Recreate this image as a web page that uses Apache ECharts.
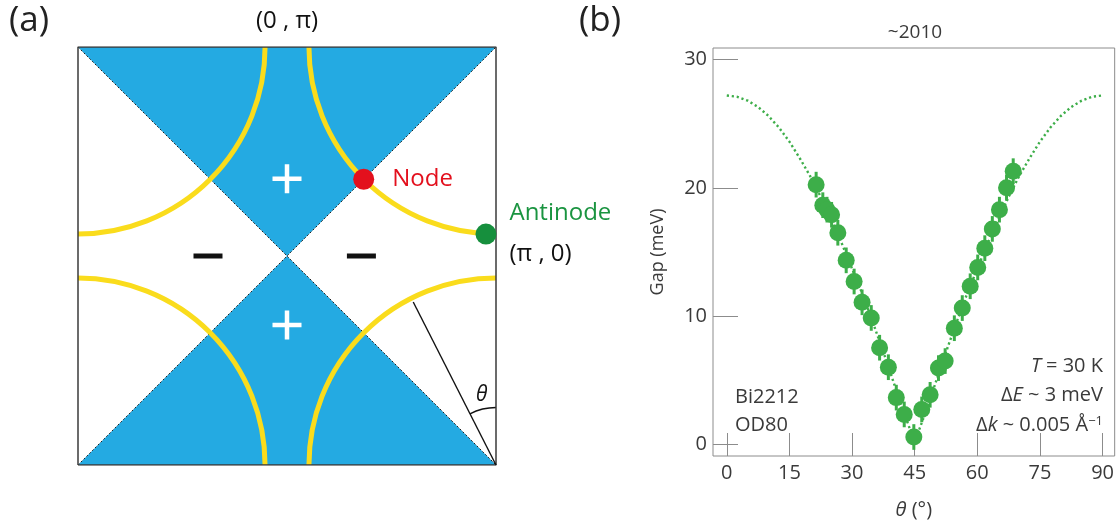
<!DOCTYPE html>
<html>
<head>
<meta charset="utf-8">
<script src="https://cdn.jsdelivr.net/npm/echarts@6/dist/echarts.min.js"></script>
<style>
  html, body { margin: 0; padding: 0; background: #fff; }
  #chart { width: 1117px; height: 525px; }
</style>
</head>
<body>
<div id="chart"></div>
<script>
// ---------- Panel (a): first Brillouin zone, momenta in units of pi ----------
const zoneEdge = [[-1, -1], [1, -1], [1, 1], [-1, 1], [-1, -1]];
const plusLobes = [
  [[-1, 1], [1, 1], [0, 0]],
  [[-1, -1], [1, -1], [0, 0]]
];
const nodalLines = [
  [[-1, 1], [1, -1]],
  [[-1, -1], [1, 1]]
];
const fermiRadius = 0.895;
// quarter arcs: centre kx, centre ky, start angle, end angle (degrees, screen orientation)
const fermiArcs = [[-1, 1, 0, 90], [1, 1, 90, 180], [-1, -1, -90, 0], [1, -1, 180, 270]];
const nodePoint = [[0.367, 0.367]];
const antinodePoint = [[0.952, 0.105]];
const plusSigns = [[0, 0.37], [0, -0.33]];
const minusSigns = [[-0.378, 0], [0.356, 0]];
const thetaRay = [[1, -1], [0.604, -0.22]];
const thetaAngleDeg = 27;
const thetaArcRadius = 0.275;
const thetaLabelPos = [[0.932, -0.665]];
const zoneTopPoint = [[0, 1]];

// ---------- Panel (b): gap versus Fermi-surface angle ----------
const xTicks = [0, 15, 30, 45, 60, 75, 90];
const yTicks = [0, 10, 20, 30];
const thetaDeg = [21.4, 23.0, 24.0, 25.1, 26.6, 28.6, 30.5, 32.4, 34.6, 36.6, 38.7, 40.6, 42.5, 44.8,
                  46.7, 48.7, 50.7, 52.3, 54.5, 56.4, 58.3, 60.1, 61.8, 63.6, 65.3, 67.0, 68.6];
const gapMeV =   [20.25, 18.65, 18.3, 17.9, 16.5, 14.35, 12.7, 11.08, 9.86, 7.54, 6.02, 3.65, 2.34, 0.58,
                  2.73, 3.87, 5.95, 6.5, 9.06, 10.63, 12.33, 13.8, 15.3, 16.8, 18.3, 20.0, 21.3];
const gapErr = 1.0;
const fitTheta = [0, 2.5, 5, 7.5, 10, 12.5, 15, 17.5, 20, 22.5, 25, 27.5, 30, 32.5, 35, 37.5, 40, 42.5, 45,
                  47.5, 50, 52.5, 55, 57.5, 60, 62.5, 65, 67.5, 70, 72.5, 75, 77.5, 80, 82.5, 85, 87.5, 90];
const fitGap =   [27.2, 27.1, 26.8, 26.3, 25.6, 24.7, 23.6, 22.3, 20.9, 19.3, 17.5, 15.7, 13.7, 11.7, 9.5, 7.2, 4.8, 2.4, 0.2,
                  2.4, 4.8, 7.2, 9.5, 11.7, 13.7, 15.7, 17.5, 19.3, 20.9, 22.3, 23.6, 24.7, 25.6, 26.3, 26.8, 27.1, 27.2];

const FONT = '"Open Sans", "DejaVu Sans", sans-serif';
const BLUE = '#24aae2';
const YELLOW = '#fadc1c';
const GREEN = '#3dae49';
const TEXT_B = '#3a3a3a';
const rad = d => d * Math.PI / 180;

const chart = echarts.init(document.getElementById('chart'), null, { renderer: 'canvas' });

const option = {
  animation: false,
  backgroundColor: '#fff',
  grid: [
    { left: 78, top: 47, width: 418, height: 418, show: false },
    { left: 713, top: 48, width: 402, height: 419, show: true, borderColor: '#8c8c8c', borderWidth: 1 }
  ],
  xAxis: [
    { gridIndex: 0, type: 'value', min: -1, max: 1, show: false },
    {
      gridIndex: 1, type: 'value', min: -3.3, max: 92.9, position: 'bottom',
      axisLine: { show: false, onZero: false }, splitLine: { show: false },
      axisTick: { show: true, inside: true, length: 23, customValues: xTicks, lineStyle: { color: '#8c8c8c', width: 1 } },
      axisLabel: { customValues: xTicks, color: TEXT_B, fontSize: 20, fontFamily: FONT, margin: 7 },
      name: '{i|θ} (°)', nameLocation: 'middle', nameGap: 44,
      nameTextStyle: { color: TEXT_B, fontSize: 20, fontFamily: FONT,
        rich: { i: { fontStyle: 'italic', fontSize: 20, fontFamily: FONT, color: TEXT_B } } }
    }
  ],
  yAxis: [
    { gridIndex: 0, type: 'value', min: -1, max: 1, show: false },
    {
      gridIndex: 1, type: 'value', min: -0.9, max: 30.9, position: 'left',
      axisLine: { show: false, onZero: false }, splitLine: { show: false },
      axisTick: { show: true, inside: true, length: 25, customValues: yTicks, lineStyle: { color: '#8c8c8c', width: 1 } },
      axisLabel: { customValues: yTicks, color: TEXT_B, fontSize: 20, fontFamily: FONT, margin: 6 },
      name: 'Gap (meV)', nameLocation: 'middle', nameGap: 46,
      nameTextStyle: { color: TEXT_B, fontSize: 18, fontFamily: FONT }
    }
  ],
  series: [
    // positive lobes of the d-wave gap
    {
      type: 'custom', xAxisIndex: 0, yAxisIndex: 0, z: 1, silent: true, clip: false,
      data: plusLobes.map((_, i) => [0, 0, i]),
      renderItem: (params, api) => ({
        type: 'polygon',
        shape: { points: plusLobes[api.value(2)].map(p => api.coord(p)) },
        style: { fill: BLUE }
      })
    },
    // nodal diagonals
    ...nodalLines.map(seg => ({
      type: 'line', xAxisIndex: 0, yAxisIndex: 0, z: 2, silent: true, showSymbol: false,
      data: seg, lineStyle: { color: '#222', width: 1, type: [2, 2] }
    })),
    // Fermi surface arcs
    {
      type: 'custom', xAxisIndex: 0, yAxisIndex: 0, z: 3, silent: true, clip: false,
      data: fermiArcs,
      renderItem: (params, api) => {
        const c = api.coord([api.value(0), api.value(1)]);
        const r = api.size([fermiRadius, 0])[0];
        return {
          type: 'arc',
          shape: { cx: c[0], cy: c[1], r: r, startAngle: rad(api.value(2)), endAngle: rad(api.value(3)), clockwise: true },
          style: { stroke: YELLOW, lineWidth: 5, fill: 'none' }
        };
      }
    },
    // zone boundary
    {
      type: 'line', xAxisIndex: 0, yAxisIndex: 0, z: 4, silent: true, showSymbol: false,
      data: zoneEdge, lineStyle: { color: '#3a3a3a', width: 1.5 }
    },
    // angle definition
    {
      type: 'line', xAxisIndex: 0, yAxisIndex: 0, z: 4, silent: true, showSymbol: false,
      data: thetaRay, lineStyle: { color: '#111', width: 1.4 }
    },
    {
      type: 'custom', xAxisIndex: 0, yAxisIndex: 0, z: 4, silent: true, clip: false,
      data: [thetaRay[0]],
      renderItem: (params, api) => {
        const c = api.coord([api.value(0), api.value(1)]);
        const r = api.size([thetaArcRadius, 0])[0];
        return {
          type: 'arc',
          shape: { cx: c[0], cy: c[1], r: r, startAngle: rad(-90 - thetaAngleDeg), endAngle: rad(-90), clockwise: true },
          style: { stroke: '#111', lineWidth: 1.4, fill: 'none' }
        };
      }
    },
    {
      type: 'scatter', xAxisIndex: 0, yAxisIndex: 0, z: 5, silent: true, symbolSize: 0,
      data: thetaLabelPos, itemStyle: { opacity: 1 },
      label: { show: true, position: 'inside', formatter: 'θ', color: '#111', fontSize: 21, fontStyle: 'italic', fontFamily: FONT }
    },
    // node and antinode
    {
      type: 'scatter', xAxisIndex: 0, yAxisIndex: 0, z: 6, silent: true, symbolSize: 21,
      data: nodePoint, itemStyle: { color: '#e3101d', opacity: 1 },
      label: { show: true, position: 'right', distance: 18, formatter: 'Node', color: '#e3101d', fontSize: 24, fontFamily: FONT }
    },
    {
      type: 'scatter', xAxisIndex: 0, yAxisIndex: 0, z: 6, silent: true, symbolSize: 21,
      data: antinodePoint, itemStyle: { color: '#168f3d', opacity: 1 },
      label: {
        show: true, position: 'right', distance: 13,
        formatter: '{g|Antinode}\n{k|(π , 0)}',
        rich: {
          g: { color: '#1a9440', fontSize: 24, fontFamily: FONT, lineHeight: 41 },
          k: { color: '#111', fontSize: 24, fontFamily: FONT, lineHeight: 41 }
        }
      }
    },
    // gap sign markers
    {
      type: 'scatter', xAxisIndex: 0, yAxisIndex: 0, z: 6, silent: true,
      symbol: 'path://M0,12.25H29V16.75H0Z M12.25,0H16.75V29H12.25Z', symbolSize: 29, symbolKeepAspect: true,
      data: plusSigns, itemStyle: { color: '#fff', opacity: 1 }
    },
    {
      type: 'scatter', xAxisIndex: 0, yAxisIndex: 0, z: 6, silent: true,
      symbol: 'rect', symbolSize: [29, 5],
      data: minusSigns, itemStyle: { color: '#111', opacity: 1 }
    },
    {
      type: 'scatter', xAxisIndex: 0, yAxisIndex: 0, z: 6, silent: true, symbolSize: 0,
      data: zoneTopPoint, itemStyle: { opacity: 1 },
      label: { show: true, position: 'top', distance: 14, formatter: '(0 , π)', color: '#111', fontSize: 24, fontFamily: FONT }
    },

    // ---------- panel (b) ----------
    {
      type: 'line', xAxisIndex: 1, yAxisIndex: 1, z: 2, silent: true, showSymbol: false,
      data: fitTheta.map((t, i) => [t, fitGap[i]]),
      lineStyle: { color: GREEN, width: 2.4, type: [2.2, 2.8] }
    },
    {
      type: 'custom', xAxisIndex: 1, yAxisIndex: 1, z: 3, silent: true,
      data: thetaDeg.map((t, i) => [t, gapMeV[i]]),
      renderItem: (params, api) => {
        const x = api.value(0), y = api.value(1);
        const lo = api.coord([x, y - gapErr]);
        const hi = api.coord([x, y + gapErr]);
        return {
          type: 'line',
          shape: { x1: lo[0], y1: lo[1], x2: hi[0], y2: hi[1] },
          style: { stroke: GREEN, lineWidth: 3 }
        };
      }
    },
    {
      type: 'scatter', xAxisIndex: 1, yAxisIndex: 1, z: 4, silent: true, symbolSize: 17,
      data: thetaDeg.map((t, i) => [t, gapMeV[i]]),
      itemStyle: { color: GREEN, opacity: 1 }
    }
  ],
  graphic: [
    { type: 'text', left: 9, top: 4, style: { text: '(a)', fontSize: 35, fontFamily: FONT, fill: '#222' } },
    { type: 'text', left: 579, top: 4, style: { text: '(b)', fontSize: 35, fontFamily: FONT, fill: '#222' } },
    { type: 'text', x: 915, y: 33, style: { text: '~2010', fontSize: 19, fontFamily: FONT, fill: TEXT_B, align: 'center', verticalAlign: 'middle' } },
    { type: 'text', x: 735, y: 411.5, style: { text: 'Bi2212\nOD80', fontSize: 20, lineHeight: 28, fontFamily: FONT, fill: TEXT_B, align: 'left', verticalAlign: 'middle' } },
    { type: 'text', x: 1103, y: 366, style: {
        text: '{i|T} = 30 K', align: 'right', verticalAlign: 'middle', fontSize: 20, fontFamily: FONT, fill: TEXT_B,
        rich: { i: { fontStyle: 'italic', fontSize: 20, fontFamily: FONT, fill: TEXT_B } } } },
    { type: 'text', x: 1103, y: 395, style: {
        text: 'Δ{i|E} ~ 3 meV', align: 'right', verticalAlign: 'middle', fontSize: 20, fontFamily: FONT, fill: TEXT_B,
        rich: { i: { fontStyle: 'italic', fontSize: 20, fontFamily: FONT, fill: TEXT_B } } } },
    { type: 'text', x: 1103, y: 425, style: {
        text: 'Δ{i|k} ~ 0.005 Å{s|−1}', align: 'right', verticalAlign: 'middle', fontSize: 20, fontFamily: FONT, fill: TEXT_B,
        rich: {
          i: { fontStyle: 'italic', fontSize: 20, fontFamily: FONT, fill: TEXT_B },
          s: { fontSize: 13, fontFamily: FONT, fill: TEXT_B, verticalAlign: 'top' }
        } } }
  ]
};

chart.setOption(option);
</script>
</body>
</html>
